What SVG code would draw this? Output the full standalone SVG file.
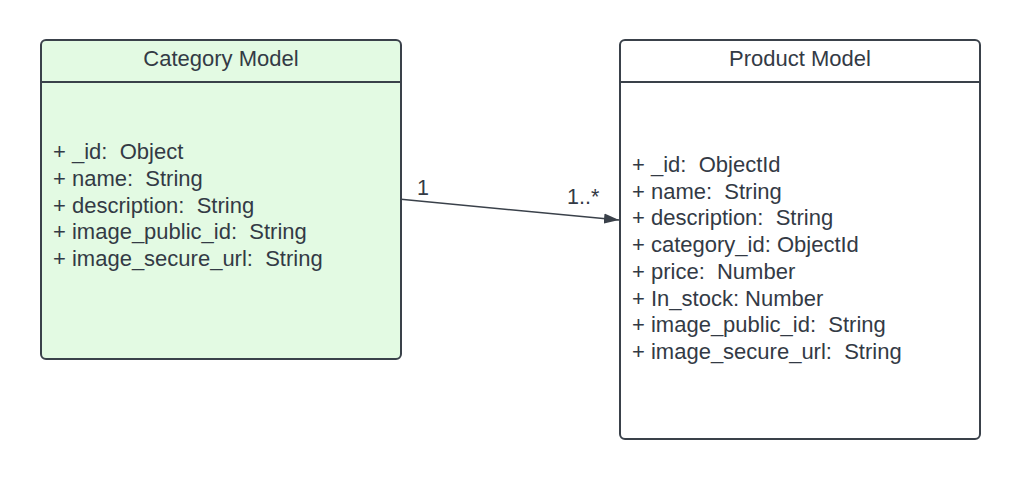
<svg xmlns="http://www.w3.org/2000/svg" width="1020" height="480" viewBox="0 0 1020 480">
<style>
.box{stroke:#3a414a;stroke-width:2}
.t{font-family:"Liberation Sans",Arial,sans-serif;font-size:22px;fill:#333a45}
.ttl{text-anchor:middle}
.lbl{font-family:"Liberation Sans",Arial,sans-serif;font-size:21.5px;fill:#333a45}
</style>
<defs>
<marker id="arr" markerWidth="16" markerHeight="11" refX="15" refY="5.5" orient="auto" markerUnits="userSpaceOnUse">
<path d="M0,0.5 L15,5.5 L0,10.5 Z" fill="#3a414a"/>
</marker>
</defs>
<rect width="1020" height="480" fill="#ffffff"/>
<g id="category">
<rect class="box" x="41" y="40" width="360" height="319" rx="5" fill="#e3fae3"/>
<line class="box" x1="41" y1="82" x2="401" y2="82"/>
<text class="t ttl" x="221" y="65.5">Category Model</text>
<text class="t" x="53" y="159" xml:space="preserve">+ _id:  Object</text>
<text class="t" x="53" y="185.8" xml:space="preserve">+ name:  String</text>
<text class="t" x="53" y="212.5" xml:space="preserve">+ description:  String</text>
<text class="t" x="53" y="239.3" xml:space="preserve">+ image_public_id:  String</text>
<text class="t" x="53" y="266" xml:space="preserve">+ image_secure_url:  String</text>
</g>
<g id="product">
<rect class="box" x="620" y="40" width="360" height="399" rx="5" fill="#ffffff"/>
<line class="box" x1="620" y1="82" x2="980" y2="82"/>
<text class="t ttl" x="800" y="65.5">Product Model</text>
<text class="t" x="632" y="172" xml:space="preserve">+ _id:  ObjectId</text>
<text class="t" x="632" y="198.7" xml:space="preserve">+ name:  String</text>
<text class="t" x="632" y="225.4" xml:space="preserve">+ description:  String</text>
<text class="t" x="632" y="252.1" xml:space="preserve">+ category_id: ObjectId</text>
<text class="t" x="632" y="278.8" xml:space="preserve">+ price:  Number</text>
<text class="t" x="632" y="305.5" xml:space="preserve">+ In_stock: Number</text>
<text class="t" x="632" y="332.2" xml:space="preserve">+ image_public_id:  String</text>
<text class="t" x="632" y="358.9" xml:space="preserve">+ image_secure_url:  String</text>
</g>
<g id="connectors">
<line x1="401" y1="199.3" x2="619" y2="220" stroke="#3a414a" stroke-width="1.5" marker-end="url(#arr)"/>
<text class="lbl" x="417" y="194.5">1</text>
<text class="lbl" x="567" y="204">1..*</text>
</g>
</svg>
